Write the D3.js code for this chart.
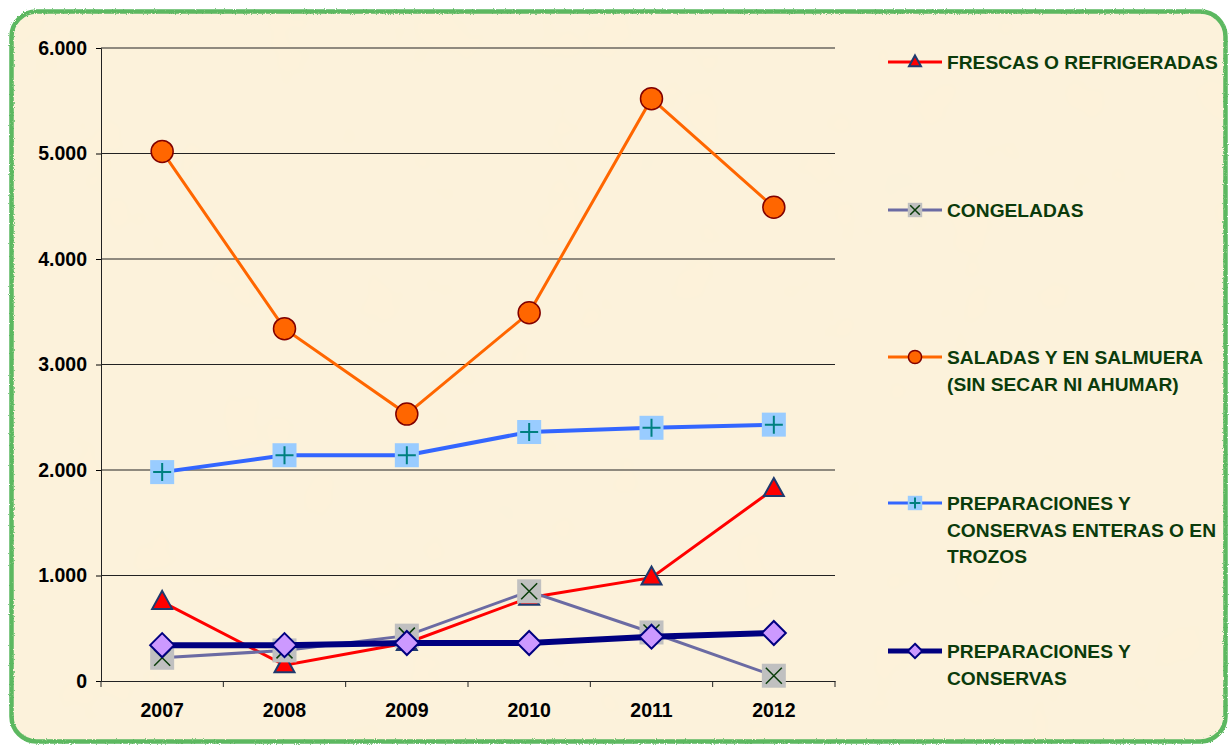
<!DOCTYPE html>
<html>
<head>
<meta charset="utf-8">
<script src="https://cdn.jsdelivr.net/npm/d3@7"></script>
<style>
  body { margin: 0; background: #fff; }
  svg { display: block; }
</style>
</head>
<body>
<div id="chart"></div>
<script>
const years = ['2007', '2008', '2009', '2010', '2011', '2012'];
const yTicks = [0, 1000, 2000, 3000, 4000, 5000, 6000];

const frescas = [750, 150, 360, 790, 980, 1820];
const congeladas = [220, 290, 430, 850, 460, 50];
const saladas = [5020, 3340, 2530, 3490, 5520, 4490];
const prepEnteras = [1980, 2140, 2140, 2360, 2400, 2430];
const prepConservas = [340, 340, 360, 360, 420, 455];

const seriesNames = [
  ['FRESCAS O REFRIGERADAS'],
  ['CONGELADAS'],
  ['SALADAS Y EN SALMUERA', '(SIN SECAR NI AHUMAR)'],
  ['PREPARACIONES Y', 'CONSERVAS ENTERAS O EN', 'TROZOS'],
  ['PREPARACIONES Y', 'CONSERVAS']
];

const series = [
  { values: frescas, color: '#ff0000', width: 3, marker: 'triangle' },
  { values: congeladas, color: '#6b6ba3', width: 3, marker: 'x' },
  { values: saladas, color: '#ff6600', width: 3, marker: 'circle' },
  { values: prepEnteras, color: '#3366ff', width: 4, marker: 'plus' },
  { values: prepConservas, color: '#000080', width: 6, marker: 'diamond' }
];

var W = 1231, H = 747;
var FONT = 'Liberation Sans, Arial, sans-serif';
var svg = d3.select('#chart').append('svg')
  .attr('width', W)
  .attr('height', H);

// parchment texture
var defs = svg.append('defs');
var f = defs.append('filter').attr('id', 'paper')
  .attr('x', 0).attr('y', 0).attr('width', '100%').attr('height', '100%');
f.append('feTurbulence')
  .attr('type', 'fractalNoise')
  .attr('baseFrequency', 0.015)
  .attr('numOctaves', 3)
  .attr('seed', 4)
  .attr('result', 'noise');
f.append('feColorMatrix')
  .attr('in', 'noise')
  .attr('type', 'matrix')
  .attr('values', '0 0 0 0 0.93  0 0 0 0 0.88  0 0 0 0 0.74  0 0 0 0.3 0');

var g2 = defs.append('filter').attr('id', 'rough');
g2.append('feTurbulence')
  .attr('type', 'fractalNoise')
  .attr('baseFrequency', 0.9)
  .attr('numOctaves', 1)
  .attr('result', 'n');
g2.append('feDisplacementMap')
  .attr('in', 'SourceGraphic')
  .attr('in2', 'n')
  .attr('scale', 3);

defs.append('clipPath').attr('id', 'frame')
  .append('rect')
  .attr('x', 10).attr('y', 10)
  .attr('width', W - 14).attr('height', H - 14)
  .attr('rx', 26);

svg.append('rect')
  .attr('x', 10).attr('y', 10)
  .attr('width', W - 14).attr('height', H - 14)
  .attr('rx', 26)
  .attr('fill', '#fdf2da');

svg.append('rect')
  .attr('x', 10).attr('y', 10)
  .attr('width', W - 14).attr('height', H - 14)
  .attr('clip-path', 'url(#frame)')
  .attr('filter', 'url(#paper)');

svg.append('rect')
  .attr('x', 11.5).attr('y', 11.5)
  .attr('width', W - 17).attr('height', H - 17)
  .attr('rx', 25)
  .attr('fill', 'none')
  .attr('stroke', '#5cb860')
  .attr('stroke-width', 4.5)
  .attr('filter', 'url(#rough)');

var margin = { left: 101, top: 48, right: 396, bottom: 66 };
var x = d3.scaleBand()
  .domain(years)
  .range([margin.left, W - margin.right]);
var y = d3.scaleLinear()
  .domain([0, 6000])
  .range([H - margin.bottom, margin.top]);

// gridlines
svg.append('g')
  .selectAll('line')
  .data(yTicks.slice(1))
  .enter()
  .append('line')
  .attr('x1', margin.left)
  .attr('x2', W - margin.right)
  .attr('y1', function(d) { return y(d); })
  .attr('y2', function(d) { return y(d); })
  .attr('stroke', '#222')
  .attr('stroke-width', 1);

var yAxis = svg.append('g')
  .attr('transform', 'translate(' + margin.left + ',0)')
  .call(d3.axisLeft(y).tickValues(yTicks).tickSize(5).tickPadding(9)
    .tickFormat(function(d) { return d === 0 ? '0' : d3.format('.3f')(d / 1000); }));
yAxis.selectAll('text')
  .attr('font-family', FONT)
  .attr('font-size', 19.5)
  .attr('font-weight', 'bold')
  .attr('fill', '#000');

var xAxis = svg.append('g')
  .attr('transform', 'translate(0,' + y(0) + ')')
  .call(d3.axisBottom(x).tickSize(0).tickPadding(22));
xAxis.selectAll('text')
  .attr('font-family', FONT)
  .attr('font-size', 19.5)
  .attr('font-weight', 'bold')
  .attr('fill', '#000');

// category boundary ticks
svg.append('g')
  .selectAll('line')
  .data(years.concat(['end']))
  .enter()
  .append('line')
  .attr('x1', function(d, i) { return margin.left + i * x.step(); })
  .attr('x2', function(d, i) { return margin.left + i * x.step(); })
  .attr('y1', y(0))
  .attr('y2', y(0) + 6)
  .attr('stroke', '#222');

svg.selectAll('.domain').attr('stroke', '#222');

var line = d3.line()
  .x(function(d, i) { return x(years[i]) + x.bandwidth() / 2; })
  .y(function(d) { return y(d); });

function drawMarker(g, type, cx, cy, s) {
  s = s || 1;
  if (type === 'triangle') {
    g.append('path')
      .attr('d', 'M' + cx + ',' + (cy - 11 * s) + 'L' + (cx + 10 * s) + ',' + (cy + 7 * s) + 'L' + (cx - 10 * s) + ',' + (cy + 7 * s) + 'Z')
      .attr('fill', '#ff0000')
      .attr('stroke', '#1f3a6e')
      .attr('stroke-width', 2);
  } else if (type === 'x') {
    var h = 12 * s;
    g.append('rect')
      .attr('x', cx - h).attr('y', cy - h)
      .attr('width', 2 * h).attr('height', 2 * h)
      .attr('fill', '#c0c0c0');
    var k = 8 * s;
    g.append('path')
      .attr('d', 'M' + (cx - k) + ',' + (cy - k) + 'L' + (cx + k) + ',' + (cy + k) + 'M' + (cx + k) + ',' + (cy - k) + 'L' + (cx - k) + ',' + (cy + k))
      .attr('stroke', '#0a3d0a')
      .attr('stroke-width', 1.5);
  } else if (type === 'circle') {
    g.append('circle')
      .attr('cx', cx).attr('cy', cy)
      .attr('r', 11 * s)
      .attr('fill', '#ff6600')
      .attr('stroke', '#800000')
      .attr('stroke-width', 1.5);
  } else if (type === 'plus') {
    var h2 = 12 * s;
    g.append('rect')
      .attr('x', cx - h2).attr('y', cy - h2)
      .attr('width', 2 * h2).attr('height', 2 * h2)
      .attr('fill', '#99ccff');
    var k2 = 9 * s;
    g.append('path')
      .attr('d', 'M' + (cx - k2) + ',' + cy + 'L' + (cx + k2) + ',' + cy + 'M' + cx + ',' + (cy - k2) + 'L' + cx + ',' + (cy + k2))
      .attr('stroke', '#008080')
      .attr('stroke-width', 2);
  } else if (type === 'diamond') {
    var r = 12 * s;
    g.append('path')
      .attr('d', 'M' + cx + ',' + (cy - r) + 'L' + (cx + r) + ',' + cy + 'L' + cx + ',' + (cy + r) + 'L' + (cx - r) + ',' + cy + 'Z')
      .attr('fill', '#cc99ff')
      .attr('stroke', '#000080')
      .attr('stroke-width', 2);
  }
}

series.forEach(function(s) {
  var g = svg.append('g');
  g.append('path')
    .datum(s.values)
    .attr('d', line)
    .attr('fill', 'none')
    .attr('stroke', s.color)
    .attr('stroke-width', s.width);
  s.values.forEach(function(v, i) {
    drawMarker(g, s.marker, x(years[i]) + x.bandwidth() / 2, y(v));
  });
});

// legend
var legendY = [62, 210, 357, 503, 651];
var legend = svg.append('g');
series.forEach(function(s, i) {
  var g = legend.append('g');
  var ly = legendY[i];
  g.append('line')
    .attr('x1', 888).attr('x2', 942)
    .attr('y1', ly).attr('y2', ly)
    .attr('stroke', s.color)
    .attr('stroke-width', s.width === 6 ? 5 : 3);
  drawMarker(g, s.marker, 915, ly, 0.6);
  seriesNames[i].forEach(function(t, j) {
    g.append('text')
      .attr('x', 947)
      .attr('y', ly + j * 26.7)
      .attr('dy', '0.36em')
      .attr('font-family', FONT)
      .attr('font-size', 19.2)
      .attr('font-weight', 'bold')
      .attr('fill', '#0b3b0b')
      .text(t);
  });
});
</script>
</body>
</html>
